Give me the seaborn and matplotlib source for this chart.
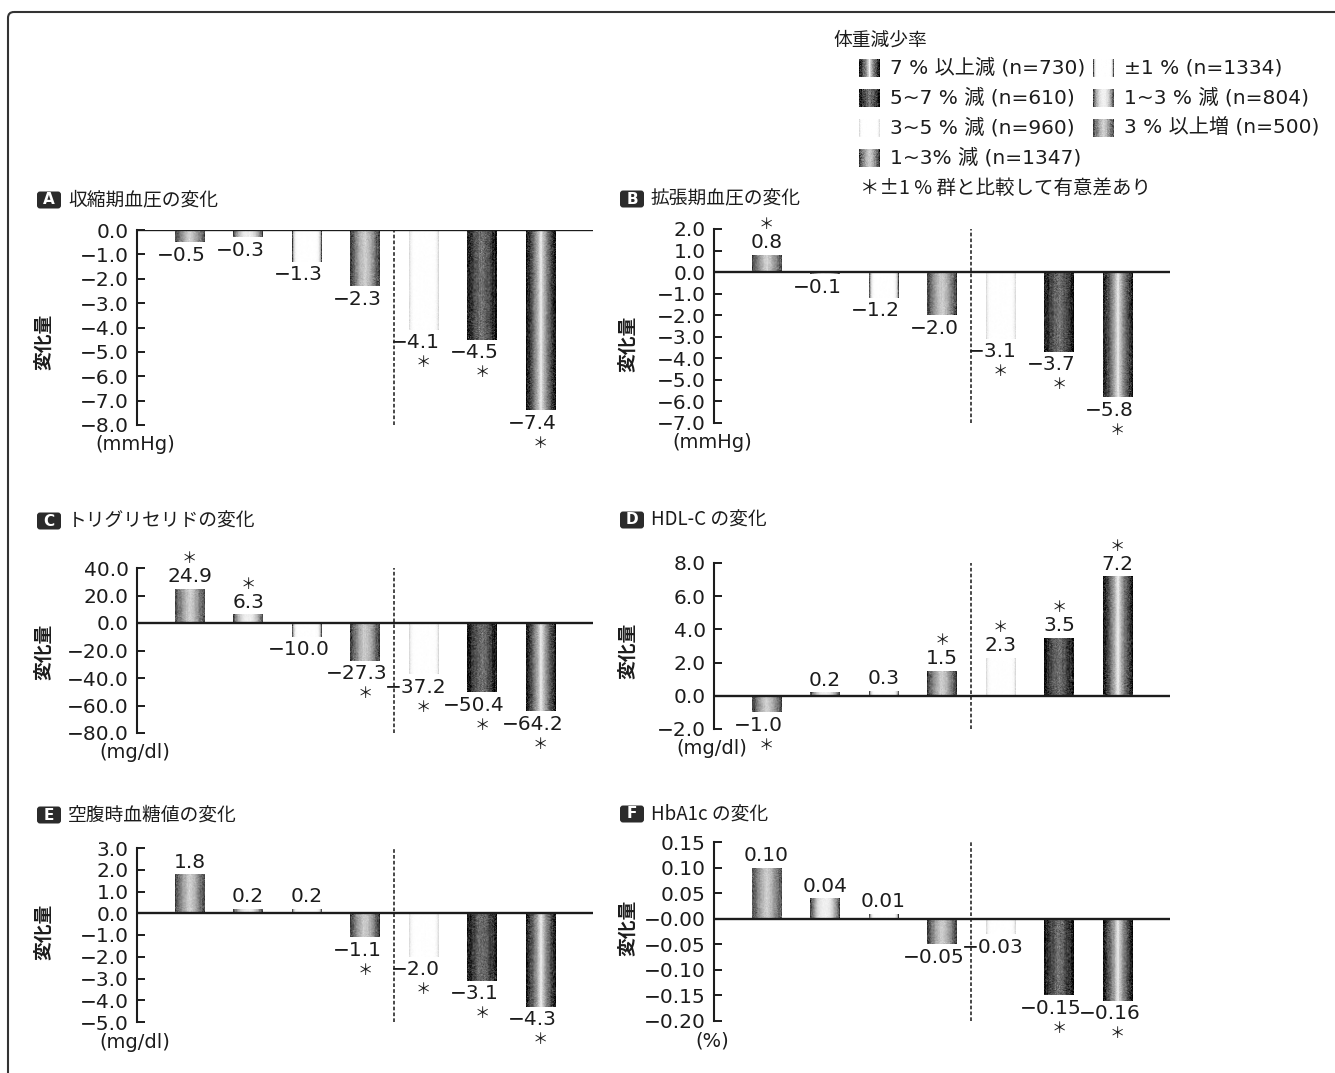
import numpy as np
import pandas as pd
import matplotlib
matplotlib.use("Agg")
import matplotlib.pyplot as plt
import seaborn as sns
from matplotlib.patches import FancyBboxPatch

# Weight-change groups, ordered from weight gain to the largest loss
groups = ["3 % 以上増 (n=500)", "1~3 % 減 (n=804)", "±1 % (n=1334)",
          "1~3% 減 (n=1347)", "3~5 % 減 (n=960)", "5~7 % 減 (n=610)",
          "7 % 以上減 (n=730)"]

# Mean change of each risk factor per group
sbp = [-0.5, -0.3, -1.3, -2.3, -4.1, -4.5, -7.4]
dbp = [0.8, -0.1, -1.2, -2.0, -3.1, -3.7, -5.8]
tg = [24.9, 6.3, -10.0, -27.3, -37.2, -50.4, -64.2]
hdl = [-1.0, 0.2, 0.3, 1.5, 2.3, 3.5, 7.2]
fpg = [1.8, 0.2, 0.2, -1.1, -2.0, -3.1, -4.3]
hba1c = [0.10, 0.04, 0.01, -0.05, -0.03, -0.15, -0.16]

# Significant difference versus the ±1 % group
sig_sbp = [0, 0, 0, 0, 1, 1, 1]
sig_dbp = [1, 0, 0, 0, 1, 1, 1]
sig_tg = [1, 1, 0, 1, 1, 1, 1]
sig_hdl = [1, 0, 0, 1, 1, 1, 1]
sig_fpg = [0, 0, 0, 1, 1, 1, 1]
sig_hba1c = [0, 0, 0, 0, 0, 1, 1]

legend_title = "体重減少率"
sig_note = "＊±1 % 群と比較して有意差あり"
ylabel = "変化量"

# Shading of each bar: (edge grey, centre grey, falloff exponent)
shades = [(0.28, 0.82, 1.3), (0.25, 0.94, 2.5), (0.28, 1.00, 12.0),
          (0.22, 0.80, 1.5), (0.86, 1.00, 10.0), (0.06, 0.45, 1.3),
          (0.07, 0.95, 0.8)]

W, H = 1335, 1073
sns.set_theme(style="white")
plt.rcParams["font.family"] = ["DejaVu Sans", "Noto Sans CJK JP"]
INK = "#1c1c1c"
CJK = ["Noto Sans CJK JP", "DejaVu Sans"]

fig = plt.figure(figsize=(W / 100, H / 100), dpi=100)
fig.patch.set_facecolor("white")

# Pixel-space overlay for frame, titles and legend
ov = fig.add_axes([0, 0, 1, 1])
ov.axis("off")

rng = np.random.default_rng(11)


def texture(edge, centre, power, rows, cols=32):
    """Cylinder-like grey shading with print grain."""
    t = np.linspace(-1, 1, cols)
    row = centre + (edge - centre) * np.abs(t) ** power
    rows = max(int(rows), 2)
    weight = 0.05 + (1 - row)
    grain = rng.normal(0, 0.09, (rows, cols)) + rng.normal(0, 0.04, (1, cols))
    img = row[None, :] + grain * weight[None, :]
    return np.clip(img, 0, 1)


def fmt(v, dec):
    s = f"{abs(v):.{dec}f}"
    return ("−" + s) if v < 0 else s


def panel(box, values, sig, lo, hi, step, dec, unit, letter, title, title_y, ylab_xy):
    left, top, right, bottom = box
    ax = fig.add_axes([left / W, 1 - bottom / H, (right - left) / W, (bottom - top) / H])
    df = pd.DataFrame({"group": groups, "value": values})
    sns.barplot(data=df, x="group", y="value", order=groups, width=0.5,
                color="white", saturation=1, linewidth=0, ax=ax)
    px_per_unit = (bottom - top) / (hi - lo)
    for patch, shade in zip(ax.patches, shades):
        x0, y0 = patch.get_x(), patch.get_y()
        w, h = patch.get_width(), patch.get_height()
        im = ax.imshow(texture(*shade, rows=abs(h) * px_per_unit), cmap="gray",
                       vmin=0, vmax=1, aspect="auto", interpolation="antialiased",
                       extent=(x0, x0 + w, min(y0, y0 + h), max(y0, y0 + h)), zorder=2)
        im.set_clip_path(patch)
        patch.set_facecolor("none")
    ax.axhline(0, color=INK, lw=1.7, zorder=4)
    ax.axvline(3.5, color="#2a2a2a", lw=1.2, ls=(0, (2.2, 1.3)), zorder=3)
    ticks = np.arange(lo, hi + step / 2, step)
    ax.set_yticks(ticks)
    ax.set_yticklabels([fmt(t, dec) for t in ticks])
    ax.set_ylim(lo, hi)
    ax.set_xlim(-0.9, 6.9)
    ax.set_xticks([])
    ax.set_xlabel("")
    ax.set_ylabel("")
    sns.despine(ax=ax, bottom=True)
    ax.spines["left"].set_linewidth(1.5)
    ax.spines["left"].set_color(INK)
    ax.tick_params(axis="y", direction="in", length=6, width=1.4, pad=6,
                   labelsize=14.5, colors=INK, left=True)
    ax.patch.set_alpha(0)

    for patch, v, s in zip(ax.patches, values, sig):
        xc = patch.get_x() + patch.get_width() / 2
        if v >= 0:
            dx, dy_lab, dy_star = 0, 12, 30
        else:
            dx, dy_lab, dy_star = -8, -13, -33
        ax.annotate(fmt(v, dec), xy=(xc, v), xytext=(dx, dy_lab), textcoords="offset pixels",
                    ha="center", va="center", fontsize=14.5, color=INK, zorder=5)
        if s:
            ax.annotate("＊", xy=(xc, v), xytext=(0, dy_star),
                        textcoords="offset pixels", ha="center", va="center",
                        fontsize=11, color=INK, zorder=5, family=CJK)

    ax.annotate(unit, xy=(0, 0), xycoords="axes fraction", xytext=(-2, -20),
                textcoords="offset pixels", ha="center", va="center", fontsize=14, color=INK)

    # panel heading with a dark letter badge
    bx = left - 100 if left < 300 else left - 94
    ov.add_patch(FancyBboxPatch((bx, title_y - 8.5), 24, 17,
                                boxstyle="round,pad=0,rounding_size=3",
                                fc="#2b2b2b", ec="none"))
    ov.text(bx + 12, title_y, letter, color="white", fontsize=11, fontweight="bold",
            ha="center", va="center")
    ov.text(bx + 31, title_y, title, fontsize=13.5, color=INK, ha="left", va="center",
            family=CJK)
    ov.text(ylab_xy[0], ylab_xy[1], ylabel, rotation=90, fontsize=13.5, color=INK,
            ha="center", va="center", fontweight="bold", family=CJK)
    return ax


panel((137, 230, 593, 425), sbp, sig_sbp, -8, 0, 1, 1, "(mmHg)", "A",
      "収縮期血圧の変化", 200, (44, 342))
panel((714, 229, 1170, 423), dbp, sig_dbp, -7, 2, 1, 1, "(mmHg)", "B",
      "拡張期血圧の変化", 199, (628, 344))
panel((137, 568, 593, 733), tg, sig_tg, -80, 40, 20, 1, "(mg/dl)", "C",
      "トリグリセリドの変化", 521, (44, 652))
panel((714, 563, 1170, 729), hdl, sig_hdl, -2, 8, 2, 1, "(mg/dl)", "D",
      "HDL-C の変化", 520, (628, 651))
panel((137, 848, 593, 1022), fpg, sig_fpg, -5, 3, 1, 1, "(mg/dl)", "E",
      "空腹時血糖値の変化", 815, (44, 932))
panel((714, 842, 1170, 1021), hba1c, sig_hba1c, -0.20, 0.15, 0.05, 2, "(%)", "F",
      "HbA1c の変化", 814, (628, 928))

# Legend of weight-change groups (two columns)
ov.text(833, 40, legend_title, fontsize=13.5, color=INK, ha="left", va="center", family=CJK)
left_col = [6, 5, 4, 3]
right_col = [2, 1, 0]
rows_y = [68, 98, 128, 158]
for col, (sx, tx) in zip([left_col, right_col], [(859, 890), (1093, 1124)]):
    for gi, y in zip(col, rows_y):
        ov.imshow(texture(*shades[gi], rows=18, cols=21), cmap="gray", vmin=0, vmax=1,
                  aspect="auto", interpolation="antialiased",
                  extent=(sx, sx + 21, y + 9, y - 9), zorder=2)
        ov.text(tx, y, groups[gi], fontsize=14.5, color=INK, ha="left", va="center")
ov.text(860, 188, sig_note, fontsize=14, color=INK, ha="left", va="center", family=CJK)

# Outer frame, running off the right and bottom edges
ov.add_patch(FancyBboxPatch((8, 12), W + 40, H + 40, boxstyle="round,pad=0,rounding_size=6",
                            fill=False, ec="#333333", lw=1.5))
ov.set_xlim(0, W)
ov.set_ylim(H, 0)

fig.savefig("out.png", dpi=100, facecolor="white")
